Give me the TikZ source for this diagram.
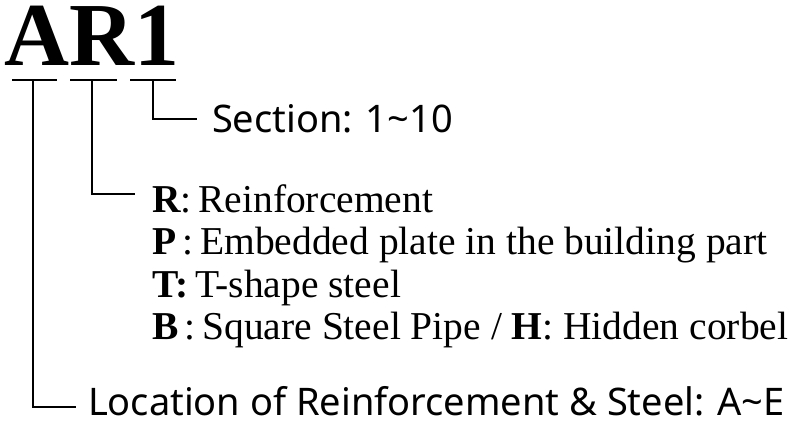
\documentclass[tikz,border=0pt]{standalone}
\usepackage{fontspec}
\setmainfont{Liberation Serif}
\newfontfamily\sansf{Noto Sans}
\begin{document}
\begin{tikzpicture}[x=1pt,y=-1pt,
  ln/.style={line width=1.6pt, black},
  txt/.style={anchor=base west, inner sep=0pt, outer sep=0pt},
  serif/.style={txt, font=\fontsize{39.5}{39.5}\selectfont},
  sans/.style={txt, font=\sansf\fontsize{38}{38}\selectfont}]
\useasboundingbox (0,0) rectangle (800,421);
% title
\node[txt, font=\fontsize{90}{90}\selectfont\bfseries] (title) at (5,65) {AR1};
% underline coordinates
\coordinate (a1) at (12,80);  \coordinate (a2) at (57,80);
\coordinate (r1) at (70,80);  \coordinate (r2) at (117,80);
\coordinate (n1) at (130,80); \coordinate (n2) at (176,80);
\draw[ln] (a1) -- (a2);
\draw[ln] (r1) -- (r2);
\draw[ln] (n1) -- (n2);
% branch points
\coordinate (ta) at (33,80);  \coordinate (ca) at (33,407); \coordinate (ea) at (76,407);
\coordinate (tr) at (92,80);  \coordinate (cr) at (92,194); \coordinate (er) at (135,194);
\coordinate (tn) at (153,80); \coordinate (cn) at (153,119); \coordinate (en) at (197,119);
\draw[ln] (ta) -- (ca) -- (ea);
\draw[ln] (tr) -- (cr) -- (er);
\draw[ln] (tn) -- (cn) -- (en);
% texts
\node[sans] (sec) at (212,132) {Section: 1\textasciitilde 10};
\node[serif] (rR) at (152,212) {\textbf{R}:\,Reinforcement};
\node[serif] (rP) at (152,254) {\textbf{P}\,:\,Embedded plate in the building part};
\node[serif] (rT) at (152,297) {\textbf{T:}\,T-shape steel};
\node[serif] (rB) at (152,339) {\textbf{B}\,:\,Square Steel Pipe / \textbf{H}: Hidden corbel};
\node[sans] (loc) at (88,415) {Location of Reinforcement \& Steel: A\textasciitilde E};
\end{tikzpicture}
\end{document}
